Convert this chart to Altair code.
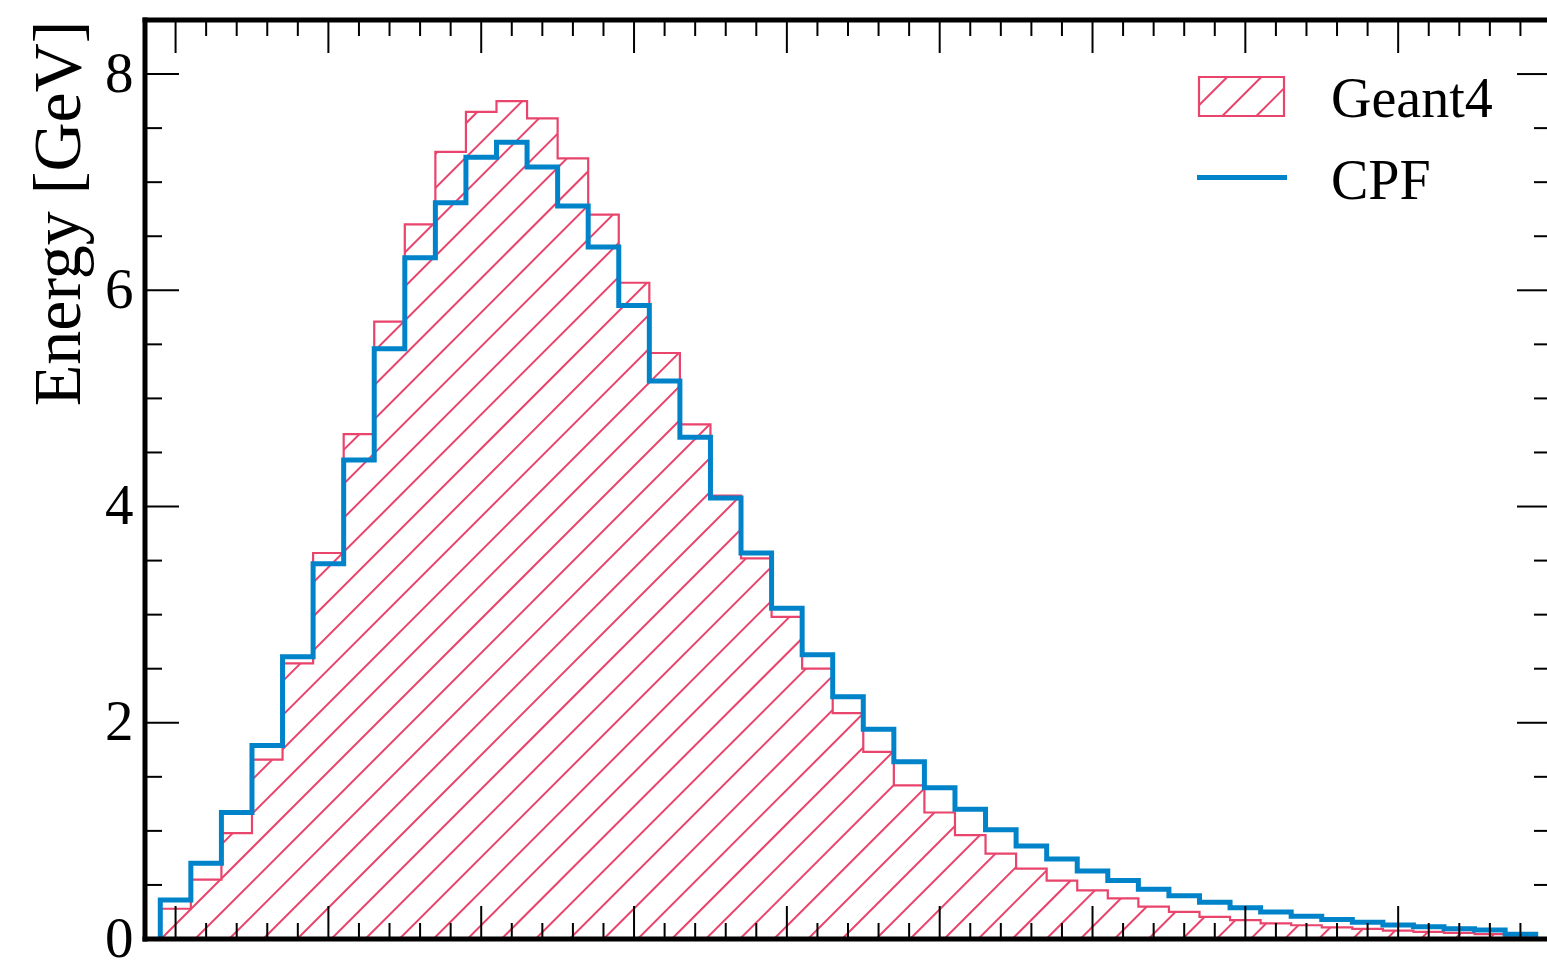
import altair as alt
import pandas as pd

# ---------------- data ----------------
bin_index = list(range(45))
geant4 = [0.28, 0.55, 0.98, 1.66, 2.55, 3.57, 4.67, 5.71, 6.61, 7.28,
          7.65, 7.75, 7.59, 7.22, 6.70, 6.07, 5.42, 4.76, 4.10, 3.52,
          2.98, 2.50, 2.09, 1.73, 1.42, 1.17, 0.96, 0.79, 0.65, 0.54,
          0.45, 0.375, 0.30, 0.25, 0.205, 0.175, 0.145, 0.127, 0.108, 0.093,
          0.077, 0.065, 0.056, 0.046, 0.03]
cpf = [0.36, 0.70, 1.17, 1.79, 2.61, 3.47, 4.43, 5.46, 6.30, 6.81,
       7.23, 7.37, 7.14, 6.78, 6.40, 5.86, 5.16, 4.64, 4.08, 3.57,
       3.06, 2.63, 2.24, 1.94, 1.64, 1.40, 1.20, 1.01, 0.86, 0.74,
       0.63, 0.54, 0.46, 0.40, 0.34, 0.29, 0.25, 0.21, 0.18, 0.155,
       0.13, 0.114, 0.095, 0.083, 0.043]
series_names = ["Geant4", "CPF"]
y_tick_values = [0, 2, 4, 6, 8]
y_minor_values = [v / 2 for v in range(1, 17) if v % 4 != 0]
x_major_values = [0, 5, 10, 15, 20, 25, 30, 35, 40]
x_minor_values = [v for v in range(0, 45) if v % 5 != 0]

# ---------------- layout / style ----------------
W, H = 1402, 919
XMIN, XMAX = -1.0, -1.0 + 1402 / 30.565
YMIN, YMAX = 0.0, 8.5
RED = "#e9446c"
BLUE = "#0083c8"
FONT = "Liberation Serif"
HATCH_W = 2.0

xs = alt.Scale(domain=[XMIN, XMAX], nice=False, zero=False)
ys = alt.Scale(domain=[YMIN, YMAX], nice=False, zero=False)


def px_to_x(px):
    return XMIN + px / W * (XMAX - XMIN)


def py_to_y(py):
    return YMAX * (1 - py / H)


def step_frame(vals):
    rows = [{"i": 0, "x": bin_index[0] - 0.5, "y": 0.0}]
    for k, v in zip(bin_index, vals):
        rows.append({"i": len(rows), "x": k - 0.5, "y": v})
    rows.append({"i": len(rows), "x": bin_index[-1] + 0.5, "y": vals[-1]})
    rows.append({"i": len(rows), "x": bin_index[-1] + 0.5, "y": 0.0})
    return pd.DataFrame(rows)


# hatch lines (45 degree, fixed device-space pattern)
HATCH_SP = 34.05
HATCH_C0 = 935.0
hatch_rows = []
for k in range(-32, 45):
    c = HATCH_C0 + HATCH_SP * k
    hatch_rows.append({"x1": px_to_x(c - H), "y1": py_to_y(H),
                       "x2": px_to_x(c), "y2": py_to_y(0)})
hatch_df = pd.DataFrame(hatch_rows)

hatch = alt.Chart(hatch_df).mark_rule(color=RED, strokeWidth=HATCH_W, clip=True).encode(
    x=alt.X("x1:Q", scale=xs, axis=None), x2="x2:Q",
    y=alt.Y("y1:Q", scale=ys), y2="y2:Q")

# white mask above the Geant4 histogram (from the outline up to the top of the frame)
mask_rows = [{"x": XMIN, "y": 0.0}]
for k, v in zip(bin_index, geant4):
    mask_rows.append({"x": k - 0.5, "y": v})
mask_rows.append({"x": bin_index[-1] + 0.5, "y": 0.0})
mask_rows.append({"x": XMAX, "y": 0.0})
mask_df = pd.DataFrame(mask_rows)
mask_df["top"] = YMAX
mask = alt.Chart(mask_df).mark_area(color="white", fill="white", interpolate="step-after",
                                    opacity=1, clip=True).encode(
    x=alt.X("x:Q", scale=xs, axis=None),
    y=alt.Y("y:Q", scale=ys),
    y2="top:Q")

g4_line = alt.Chart(step_frame(geant4)).mark_line(
    color=RED, strokeWidth=2.2, interpolate="step-after", strokeJoin="miter", clip=True).encode(
    x=alt.X("x:Q", scale=xs, axis=None),
    y=alt.Y("y:Q", scale=ys,
            axis=alt.Axis(values=y_tick_values, format="d", title="Energy [GeV]",
                          ticks=False, tickSize=0,
                          domain=False, grid=False, labelFont=FONT, labelFontSize=57,
                          labelColor="black", labelPadding=12, labelOverlap=False,
                          titleFont=FONT, titleFontSize=68, titleFontWeight="normal",
                          titleColor="black", titleAngle=270, titleAlign="right",
                          titleBaseline="alphabetic", titleX=-66, titleY=0)),
    order="i:Q")

cpf_line = alt.Chart(step_frame(cpf)).mark_line(
    color=BLUE, strokeWidth=5, interpolate="step-after", strokeJoin="miter",
    strokeCap="butt", clip=True).encode(
    x=alt.X("x:Q", scale=xs, axis=None),
    y=alt.Y("y:Q", scale=ys),
    order="i:Q")

# inward ticks on all four sides
xmaj = pd.DataFrame({"v": x_major_values})
xmin_ = pd.DataFrame({"v": x_minor_values})
ymaj = pd.DataFrame({"v": y_tick_values})
ymin_ = pd.DataFrame({"v": y_minor_values})
RIGHT_SPINE = (45 - XMIN) / (XMAX - XMIN) * W
tick_layers = []
for df, ln in [(xmaj, 33), (xmin_, 16)]:
    tick_layers.append(alt.Chart(df).mark_rule(color="black", strokeWidth=2).encode(
        x=alt.X("v:Q", scale=xs, axis=None), y=alt.value(H), y2=alt.value(H - ln)))
    tick_layers.append(alt.Chart(df).mark_rule(color="black", strokeWidth=2).encode(
        x=alt.X("v:Q", scale=xs, axis=None), y=alt.value(0), y2=alt.value(ln)))
for df, ln in [(ymaj, 34), (ymin_, 17)]:
    tick_layers.append(alt.Chart(df).mark_rule(color="black", strokeWidth=2).encode(
        y=alt.Y("v:Q", scale=ys), x=alt.value(0), x2=alt.value(ln)))
    tick_layers.append(alt.Chart(df).mark_rule(color="black", strokeWidth=2, clip=True).encode(
        y=alt.Y("v:Q", scale=ys), x=alt.value(RIGHT_SPINE - ln), x2=alt.value(W)))

one = pd.DataFrame({"a": [0]})
spine_top = alt.Chart(one).mark_rule(color="black", strokeWidth=5, strokeCap="square").encode(
    x=alt.value(0), x2=alt.value(W), y=alt.value(0))
spine_bottom = alt.Chart(one).mark_rule(color="black", strokeWidth=5, strokeCap="square").encode(
    x=alt.value(0), x2=alt.value(W), y=alt.value(H))
spine_left = alt.Chart(one).mark_rule(color="black", strokeWidth=5, strokeCap="square").encode(
    x=alt.value(0), y=alt.value(0), y2=alt.value(H))

# legend (drawn by hand: hatched patch + line)
LX0, LX1, LY0, LY1 = 1054, 1139, 57, 96
patch_df = pd.DataFrame({"x1": [px_to_x(LX0)], "x2": [px_to_x(LX1)],
                         "y1": [py_to_y(LY0)], "y2": [py_to_y(LY1)]})
patch = alt.Chart(patch_df).mark_rect(fill=None, filled=False, stroke=RED, strokeWidth=2.2).encode(
    x=alt.X("x1:Q", scale=xs, axis=None), x2="x2:Q",
    y=alt.Y("y1:Q", scale=ys), y2="y2:Q")
leg_hatch_rows = []
for k in range(0, 12):
    c = HATCH_C0 + HATCH_SP * k
    if LX0 + LY0 < c < LX1 + LY1:
        xa = max(LX0, c - LY1)
        xb = min(LX1, c - LY0)
        leg_hatch_rows.append({"x1": px_to_x(xa), "y1": py_to_y(c - xa),
                               "x2": px_to_x(xb), "y2": py_to_y(c - xb)})
leg_hatch = alt.Chart(pd.DataFrame(leg_hatch_rows)).mark_rule(color=RED, strokeWidth=HATCH_W).encode(
    x=alt.X("x1:Q", scale=xs, axis=None), x2="x2:Q",
    y=alt.Y("y1:Q", scale=ys), y2="y2:Q")
leg_line_df = pd.DataFrame({"x1": [px_to_x(1052)], "x2": [px_to_x(1142)],
                            "y1": [py_to_y(157.5)]})
leg_line = alt.Chart(leg_line_df).mark_rule(color=BLUE, strokeWidth=5, strokeCap="butt").encode(
    x=alt.X("x1:Q", scale=xs, axis=None), x2="x2:Q",
    y=alt.Y("y1:Q", scale=ys))
leg_text_df = pd.DataFrame({"label": series_names,
                            "x": [px_to_x(1186), px_to_x(1186)],
                            "y": [py_to_y(96.5), py_to_y(179)]})
leg_text = alt.Chart(leg_text_df).mark_text(
    align="left", baseline="alphabetic", font=FONT, fontSize=56, color="black").encode(
    x=alt.X("x:Q", scale=xs, axis=None), y=alt.Y("y:Q", scale=ys), text="label:N")

chart = alt.layer(
    hatch, mask, g4_line, cpf_line, *tick_layers,
    spine_top, spine_bottom, spine_left,
    patch, leg_hatch, leg_line, leg_text
).properties(
    width=W, height=H,
    autosize=alt.AutoSizeParams(type="none"),
    padding={"left": 145, "top": 20, "right": 0, "bottom": 21},
    background="white",
).configure_view(stroke=None)

chart.save("out.html", embed_options={"renderer": "svg", "actions": False})
